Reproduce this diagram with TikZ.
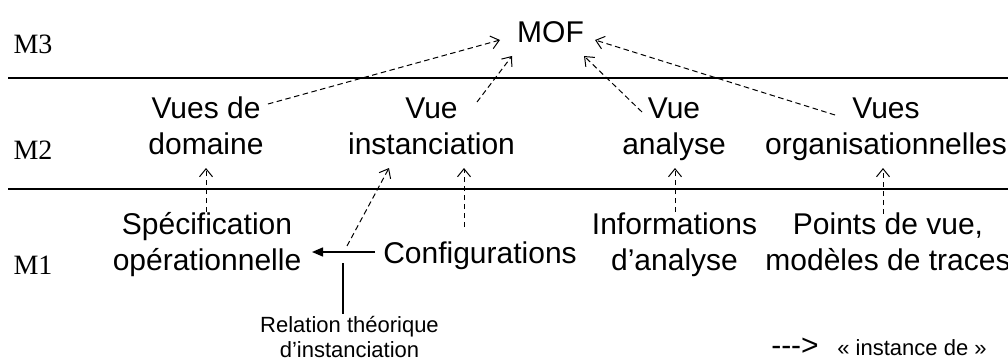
\documentclass[tikz,border=0pt]{standalone}
\usepackage{fontspec}
\setmainfont{Liberation Sans}
\newfontfamily\lvlfont{Liberation Serif}
\usetikzlibrary{arrows.meta,calc}
\newcommand\twolines[1]{\begin{tabular}[t]{@{}c@{}}#1\end{tabular}}
\begin{document}
\begin{tikzpicture}[x=1pt,y=-1pt,
  txt/.style={inner sep=0pt, anchor=base, font=\fontsize{30}{36}\selectfont},
  small/.style={inner sep=0pt, anchor=base, font=\fontsize{22}{25}\selectfont},
  lvl/.style={inner sep=0pt, anchor=base, font=\lvlfont\fontsize{28}{34}\selectfont},
  inst/.style={dash pattern=on 5.5pt off 3.5pt, line width=1pt, -{Straight Barb[length=8pt,width=13pt]}},
  rulebar/.style={line width=1.4pt},
  relline/.style={line width=1.4pt}]
\useasboundingbox (0,0) rectangle (1008,361);

% level separators
\coordinate (r1a) at (8,78);  \coordinate (r1b) at (1008,78);
\coordinate (r2a) at (8,189); \coordinate (r2b) at (1008,189);
\draw[rulebar] (r1a) -- (r1b);
\draw[rulebar] (r2a) -- (r2b);

% level labels
\node[lvl] (m3) at (33,53) {M3};
\node[lvl] (m2) at (33,159) {M2};
\node[lvl] (m1) at (33,274) {M1};

% M3
\node[txt] (mof) at (550.5,42) {MOF};

% M2
\node[txt] (vdom) at (206,118) {\twolines{Vues de\\domaine}};
\node[txt] (vinst) at (431.5,118) {\twolines{Vue\\instanciation}};
\node[txt] (vana) at (674,118) {\twolines{Vue\\analyse}};
\node[txt] (vorg) at (886,118) {\twolines{Vues\\organisationnelles}};

% M1
\node[txt] (spec) at (207,234) {\twolines{Spécification\\opérationnelle}};
\node[txt] (conf) at (480,263) {Configurations};
\node[txt] (info) at (674.5,234) {\twolines{Informations\\d’analyse}};
\node[txt] (pts) at (888,234) {\twolines{Points de vue,\\modèles de traces}};

% theoretical relation
\node[small] (rel) at (349.5,332) {\twolines{Relation théorique\\d’instanciation}};
\coordinate (relstart) at (347,246);
\coordinate (reltop) at (343,263);

% legend
\node[txt] (legarrow) at (795,355) {-\kern0pt-\kern0pt-\kern0pt>};
\node[small] (legtxt) at (912,355) {« instance de »};

% instance-of arrows to MOF
\draw[inst] ([shift={(62,-14)}]vdom.base) -- ([shift={(-50.5,-2)}]mof.base);
\draw[inst] ([shift={(45.5,-16)}]vinst.base) -- ([shift={(-38.5,14)}]mof.base);
\draw[inst] ([shift={(-32,-6)}]vana.base) -- ([shift={(33.5,14)}]mof.base);
\draw[inst] ([shift={(-51,-3)}]vorg.base) -- ([shift={(44.5,-2)}]mof.base);

% instance-of arrows M1 -> M2
\draw[inst] ([shift={(-1,-22)}]spec.base) -- ([shift={(0,50)}]vdom.base);
\draw[inst] (relstart) -- ([shift={(-42.5,50)}]vinst.base);
\draw[inst] ([shift={(-16,-36)}]conf.base) -- ([shift={(32.5,50)}]vinst.base);
\draw[inst] ([shift={(0.5,-22)}]info.base) -- ([shift={(1,50)}]vana.base);
\draw[inst] ([shift={(-5,-20)}]pts.base) -- ([shift={(-3,50)}]vorg.base);

% solid relation arrow
\draw[relline, -{Triangle[length=11pt,width=9pt]}] ([shift={(-8,-11)}]conf.base west) -- ([shift={(105,18)}]spec.base);
\draw[relline] (reltop) -- (reltop |- rel.north);
\end{tikzpicture}
\end{document}
